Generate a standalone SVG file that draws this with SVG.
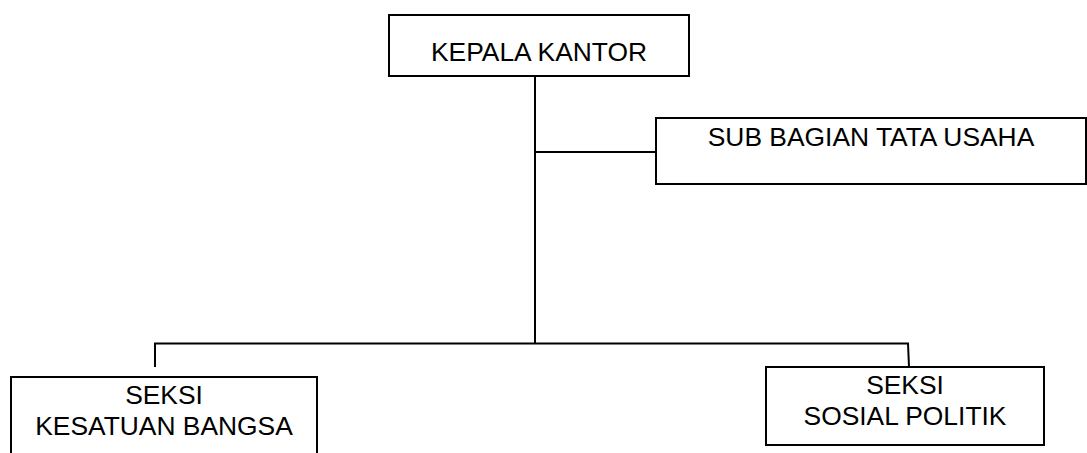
<svg xmlns="http://www.w3.org/2000/svg" width="1087" height="453" viewBox="0 0 1087 453">
<style>
.box{fill:#fff;stroke:#000;stroke-width:2}
.ln{fill:none;stroke:#000;stroke-width:2}
text{font-family:"Liberation Sans",Arial,sans-serif;font-size:26.4px;fill:#000;text-anchor:middle}
</style>
<rect width="1087" height="453" fill="#fff"/>
<g id="connectors">
<line class="ln" x1="535" y1="76" x2="535" y2="344"/>
<line class="ln" x1="534" y1="152" x2="656" y2="152"/>
<polyline class="ln" points="155,367 155,343.5 908,343.5 909,367"/>
</g>
<g id="kepala">
<rect class="box" x="389" y="15" width="300" height="61"/>
<text x="539" y="61">KEPALA KANTOR</text>
</g>
<g id="subbagian">
<rect class="box" x="656" y="118" width="430" height="66"/>
<text x="871" y="146">SUB BAGIAN TATA USAHA</text>
</g>
<g id="kesatuan">
<rect class="box" x="11" y="377" width="306" height="90"/>
<text x="164" y="404">SEKSI</text>
<text x="164" y="435">KESATUAN BANGSA</text>
</g>
<g id="sospol">
<rect class="box" x="766" y="367" width="278" height="78"/>
<text x="905" y="394">SEKSI</text>
<text x="905" y="425">SOSIAL POLITIK</text>
</g>
</svg>
